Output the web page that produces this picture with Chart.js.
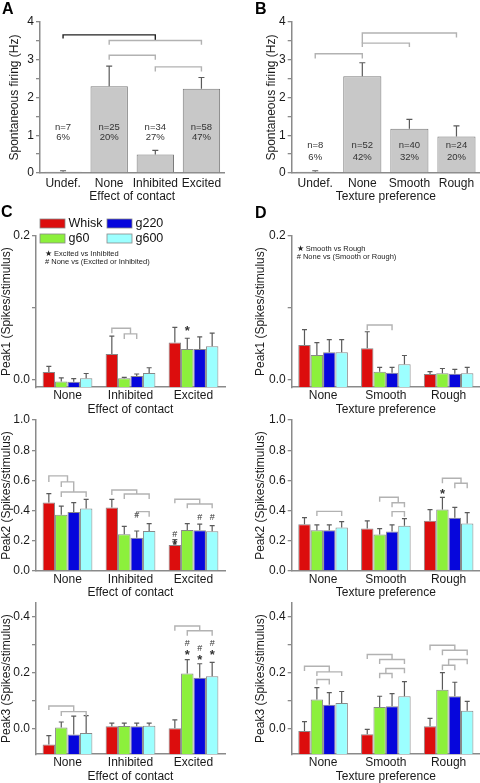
<!DOCTYPE html>
<html lang="en">
<head>
<meta charset="UTF-8">
<title>Spontaneous firing and peak responses</title>
<script src="https://cdn.jsdelivr.net/npm/chart.js"></script>
<style>
  html, body { margin: 0; padding: 0; background: #fff; }
  #figure { position: relative; width: 480px; height: 783px; overflow: hidden; font-family: "Liberation Sans", Arial, sans-serif; }
  .letter { position: absolute; z-index: 5; font-weight: bold; font-size: 16px; line-height: 16px; color: #000; }
</style>
</head>
<body>
<div id="figure">
  <div class="letter" style="left:2px;top:1px">A</div>
  <div class="letter" style="left:255px;top:1px">B</div>
  <div class="letter" style="left:1px;top:204px">C</div>
  <div class="letter" style="left:255px;top:205px">D</div>
</div>

<script>
// ---- data ----
const catsA = ['Undef.', 'None', 'Inhibited', 'Excited'];
const firingA = [0.03, 2.30, 0.49, 2.23];
const semA = [0.03, 0.53, 0.11, 0.30];
const nA = ['n=7', 'n=25', 'n=34', 'n=58'];
const pctA = ['6%', '20%', '27%', '47%'];

const catsB = ['Undef.', 'None', 'Smooth', 'Rough'];
const firingB = [0.03, 2.56, 1.17, 0.97];
const semB = [0.03, 0.36, 0.25, 0.28];
const nB = ['n=8', 'n=52', 'n=40', 'n=24'];
const pctB = ['6%', '42%', '32%', '20%'];

const groupsC = ['None', 'Inhibited', 'Excited'];
const groupsD = ['None', 'Smooth', 'Rough'];
const conditions = ['Whisk', 'g60', 'g220', 'g600'];
const condColors = ['#dc0d0d', '#8cf03c', '#0606dc', '#9cffff'];

// rows: Whisk, g60, g220, g600 ; columns: groups
const peak1C = [[0.011, 0.036, 0.052], [-0.002, 0.0023, 0.043], [-0.0023, 0.0056, 0.043], [0.0023, 0.0097, 0.047]];
const peak1CErr = [[0.008, 0.025, 0.021], [0.005, 0.0014, 0.015], [0.0043, 0.0027, 0.017], [0.0067, 0.0073, 0.018]];
const peak2C = [[0.453, 0.42, 0.173], [0.372, 0.243, 0.272], [0.39, 0.221, 0.27], [0.414, 0.265, 0.263]];
const peak2CErr = [[0.06, 0.055, 0.035], [0.058, 0.053, 0.042], [0.063, 0.044, 0.04], [0.061, 0.049, 0.037]];
const peak3C = [[-0.055, 0.0095, 0.0024], [0.005, 0.011, 0.198], [-0.02, 0.0095, 0.183], [-0.014, 0.012, 0.188]];
const peak3CErr = [[0.031, 0.0115, 0.03], [0.02, 0.01, 0.05], [0.066, 0.0115, 0.05], [0.062, 0.009, 0.05]];

const peak1D = [[0.0486, 0.044, 0.0083], [0.0347, 0.0116, 0.0093], [0.0384, 0.0102, 0.0088], [0.0384, 0.022, 0.0093]];
const peak1DErr = [[0.0214, 0.023, 0.0033], [0.0173, 0.006, 0.0067], [0.0176, 0.0074, 0.006], [0.0176, 0.012, 0.0083]];
const peak2D = [[0.31, 0.281, 0.332], [0.27, 0.241, 0.407], [0.27, 0.261, 0.352], [0.288, 0.30, 0.314]];
const peak2DErr = [[0.044, 0.051, 0.075], [0.035, 0.04, 0.08], [0.035, 0.044, 0.07], [0.039, 0.047, 0.073]];
const peak3D = [[-0.007, -0.019, 0.0095], [0.105, 0.079, 0.14], [0.087, 0.081, 0.117], [0.093, 0.117, 0.065]];
const peak3DErr = [[0.033, 0.018, 0.0285], [0.043, 0.038, 0.061], [0.043, 0.045, 0.05], [0.041, 0.052, 0.034]];

// tick values / labelled ticks
const ticksFiring = [0, 0.5, 1, 1.5, 2, 2.5, 3, 3.5, 4];
const labelsFiring = [0, 1, 2, 3, 4];
const ticksPeak1 = [0, 0.1, 0.2];
const labelsPeak1 = [0, 0.2];
const ticksPeak2 = [0, 0.1, 0.2, 0.3, 0.4, 0.5, 0.6, 0.7, 0.8, 0.9, 1.0];
const labelsPeak2 = [0, 0.2, 0.4, 0.6, 0.8, 1.0];
const ticksPeak3 = [0, 0.1, 0.2, 0.3, 0.4];
const labelsPeak3 = [0, 0.2, 0.4];

// significance brackets: [group, from bar, to bar, y, left leg end, right leg end, colour]
const bracketsA = [[0, 0, 2, 3.66, 3.56, 3.51, '#222'], [0, 1, 3, 3.51, 3.40, 3.40], [0, 1, 2, 3.12, 3.0, 3.0], [0, 2, 3, 2.81, 2.69, 2.69]];
const bracketsB = [[0, 1, 3, 3.71, 3.44, 3.59], [0, 1, 2, 3.44, 3.34, 3.34], [0, 0, 1, 3.16, 3.03, 3.03]];
const bracketsC1 = [[1, 0, 1.5, 0.0718, 0.065, 0.064], [1, 1, 2, 0.064, 0.057, 0.057]];
const bracketsC2 = [[0, 0, 1.5, 0.63, 0.59, 0.59], [0, 1, 2, 0.59, 0.556, 0.523], [0, 1, 3, 0.523, 0.49, 0.49],
  [1, 0, 2, 0.536, 0.503, 0.51], [1, 1, 3, 0.51, 0.477, 0.477], [1, 2, 3, 0.393, 0.36, 0.36],
  [2, 0, 2, 0.475, 0.448, 0.444], [2, 1, 3, 0.444, 0.415, 0.415]];
const bracketsC3 = [[0, 0, 2, 0.082, 0.068, 0.062], [0, 1, 3, 0.062, 0.046, 0.046], [2, 0, 2, 0.368, 0.351, 0.351], [2, 1, 3, 0.351, 0.333, 0.333]];
const bracketsD1 = [[1, 0, 2, 0.0764, 0.069, 0.069]];
const bracketsD2 = [[0, 1, 3, 0.395, 0.364, 0.364], [1, 1, 2.5, 0.488, 0.459, 0.452], [1, 2, 3, 0.452, 0.422, 0.422],
  [1, 2, 3, 0.393, 0.36, 0.36], [2, 1, 2.5, 0.614, 0.581, 0.581], [2, 2, 3, 0.581, 0.548, 0.548]];
const bracketsD3 = [[0, 0, 2, 0.224, 0.207, 0.204], [0, 1, 3, 0.204, 0.189, 0.189], [0, 1, 2, 0.177, 0.159, 0.159],
  [1, 0, 2, 0.266, 0.25, 0.248], [1, 1, 3, 0.248, 0.232, 0.232], [1, 1.5, 3, 0.216, 0.198, 0.199], [1, 1, 2, 0.198, 0.181, 0.181],
  [2, 0, 2, 0.299, 0.281, 0.281], [2, 1, 3, 0.281, 0.263, 0.263], [2, 1.5, 3, 0.248, 0.2275, 0.231], [2, 1, 2, 0.2275, 0.21, 0.21]];

// significance marks: [group, bar, y, symbol]
const marksC1 = [[2, 1, 0.072, '*']];
const marksC2 = [[1, 2, 0.37, '#'], [2, 0, 0.243, '#'], [2, 0, 0.186, '*'], [2, 2, 0.352, '#'], [2, 3, 0.352, '#']];
const marksC3 = [[2, 1, 0.307, '#'], [2, 1, 0.275, '*'], [2, 2, 0.289, '#'], [2, 2, 0.257, '*'], [2, 3, 0.307, '#'], [2, 3, 0.275, '*']];
const marksD2 = [[2, 1, 0.524, '*']];

// ---- drawing ----
const FONT = '"Liberation Sans", Arial, sans-serif';
Chart.defaults.font.family = FONT;
Chart.defaults.font.size = 12;
Chart.defaults.color = '#1a1a1a';
const AXIS = '#8a8a8a', ERR = '#5a5a5a', BRK = '#b2b2b2';

function xAt(chart, g, p) {
    if (chart.data.datasets.length === 1) return chart.scales.x.getPixelForValue(p);
    const lo = Math.floor(p), hi = Math.ceil(p), f = p - lo;
    const a = chart.getDatasetMeta(lo).data[g].x, b = chart.getDatasetMeta(hi).data[g].x;
    return a + (b - a) * f;
}

function extras(p) {
    return {
        id: 'extras' + p.id,
        afterDatasetsDraw(chart) {
            const ctx = chart.ctx, ys = chart.scales.y, area = chart.chartArea;
            ctx.save();
            // error bars
            chart.data.datasets.forEach((ds, d) => {
                chart.getDatasetMeta(d).data.forEach((bar, i) => {
                    const v = ds.data[i], e = p.errors[d][i];
                    const y0 = ys.getPixelForValue(v), y1 = ys.getPixelForValue(v + e);
                    ctx.strokeStyle = ERR;
                    ctx.lineWidth = 1.2;
                    ctx.beginPath();
                    ctx.moveTo(bar.x, y0); ctx.lineTo(bar.x, y1);
                    ctx.moveTo(bar.x - p.cap, y1); ctx.lineTo(bar.x + p.cap, y1);
                    ctx.stroke();
                });
            });
            // brackets
            (p.brackets || []).forEach(([g, pa, pb, y, ya, yb, col]) => {
                const xa = xAt(chart, g, pa), xb = xAt(chart, g, pb);
                ctx.strokeStyle = col || BRK;
                ctx.lineWidth = 1.4;
                ctx.beginPath();
                ctx.moveTo(xa, ys.getPixelForValue(ya));
                ctx.lineTo(xa, ys.getPixelForValue(y));
                ctx.lineTo(xb, ys.getPixelForValue(y));
                ctx.lineTo(xb, ys.getPixelForValue(yb));
                ctx.stroke();
            });
            ctx.fillStyle = '#333';
            ctx.textAlign = 'center';
            ctx.textBaseline = 'middle';
            // * and # marks
            (p.marks || []).forEach(([g, b, v, t]) => {
                const x = xAt(chart, g, b), y = ys.getPixelForValue(v);
                if (t === '*') {
                    ctx.font = 'bold 13px ' + FONT;
                    ctx.fillText('*', x, y + 3);
                } else {
                    ctx.font = '9px ' + FONT;
                    ctx.fillText('#', x, y);
                }
            });
            // n / percentage labels
            if (p.texts) {
                ctx.font = '9.5px ' + FONT;
                p.texts.forEach((row, r) => {
                    row.forEach((t, i) => ctx.fillText(t, xAt(chart, 0, i), ys.getPixelForValue(p.textY[r])));
                });
            }
            // legend
            if (p.legend) {
                chart.data.datasets.forEach((ds, d) => {
                    const x = area.left + 4 + Math.floor(d / 2) * 67;
                    const y = area.top - 17 + (d % 2) * 15;
                    ctx.fillStyle = ds.backgroundColor;
                    ctx.fillRect(x, y, 25, 9);
                    ctx.strokeStyle = '#888';
                    ctx.lineWidth = 0.8;
                    ctx.strokeRect(x, y, 25, 9);
                    ctx.fillStyle = '#111';
                    ctx.font = '12.5px ' + FONT;
                    ctx.textAlign = 'left';
                    ctx.fillText(ds.label, x + 28.5, y + 5);
                });
            }
            // notes
            if (p.notes) {
                ctx.fillStyle = '#222';
                ctx.textAlign = 'left';
                ctx.font = '7.5px ' + FONT;
                p.notes.forEach((t, i) => ctx.fillText(t, area.left + p.noteX, area.top + p.noteY + i * 8));
            }
            ctx.restore();
        }
    };
}

function makeChart(p) {
    const c = document.createElement('canvas');
    c.width = p.box.w;
    c.height = p.box.h;
    c.style.cssText = 'position:absolute;left:' + p.box.x + 'px;top:' + p.box.y + 'px;width:' + p.box.w + 'px;height:' + p.box.h + 'px';
    document.getElementById('figure').appendChild(c);

    const datasets = p.series.map((s, d) => ({
        label: p.names[d],
        data: s,
        backgroundColor: p.colors[d],
        borderColor: p.borderColor,
        borderWidth: 1,
        base: p.yMin,
        barPercentage: p.barPct,
        categoryPercentage: p.catPct
    }));

    return new Chart(c, {
        type: 'bar',
        data: { labels: p.labels, datasets: datasets },
        options: {
            responsive: false,
            animation: false,
            events: [],
            layout: { padding: { left: 0, top: p.area.t - p.box.y, right: p.box.x + p.box.w - p.area.r, bottom: 0 } },
            plugins: { legend: { display: false }, tooltip: { enabled: false } },
            scales: {
                x: {
                    grid: { display: false, drawTicks: false },
                    border: { color: AXIS, width: 1.5 },
                    ticks: { color: '#1a1a1a', padding: p.xTickPad, maxRotation: 0, autoSkip: false },
                    title: { display: true, text: p.xTitle, color: '#1a1a1a', padding: { top: 0, bottom: p.xTitlePad } },
                    afterFit: s => { s.height = p.box.y + p.box.h - p.area.b; }
                },
                y: {
                    min: p.yMin,
                    max: p.yMax,
                    afterBuildTicks: s => { s.ticks = p.ticks.map(v => ({ value: v })); },
                    grid: { drawOnChartArea: false, color: AXIS, lineWidth: 1.3, tickLength: 4 },
                    border: { color: AXIS, width: 1.5 },
                    ticks: {
                        color: '#1a1a1a',
                        padding: 2,
                        callback: v => p.labeled.some(l => Math.abs(l - v) < 1e-6) ? v.toFixed(p.dec) : ''
                    },
                    title: { display: true, text: p.yTitle, color: '#1a1a1a', padding: { top: p.yTitlePad, bottom: 0 } },
                    afterFit: s => { s.width = p.area.l - p.box.x; }
                }
            }
        },
        plugins: [extras(p)]
    });
}

function single(id, box, area, labels, values, errs, xTitle, texts, textY, brackets, yTitlePad) {
    return {
        id, box, area, labels, xTitle, texts, textY, brackets, yTitlePad,
        series: [values], errors: [errs], names: ['Spontaneous firing'],
        colors: ['#c8c8c8'], borderColor: '#7a7a7a', barPct: 0.81, catPct: 1, cap: 3,
        yMin: 0, yMax: 4, ticks: ticksFiring, labeled: labelsFiring, dec: 0,
        yTitle: 'Spontaneous firing (Hz)', xTickPad: 3, xTitlePad: 1.8
    };
}

function grouped(id, box, area, labels, values, errs, xTitle, yTitle, yMin, yMax, ticks, labeled, brackets, marks, extra) {
    return Object.assign({
        id, box, area, labels, xTitle, yTitle, yMin, yMax, ticks, labeled, brackets, marks,
        series: values, errors: errs, names: conditions, colors: condColors, borderColor: '#888',
        barPct: 1, catPct: 0.79, cap: 2.5, dec: 1
    }, extra);
}

const panels = [
    single('A', { x: 0, y: 0, w: 240, h: 206 }, { l: 40, t: 22, r: 224.5, b: 173 }, catsA, firingA, semA,
        'Effect of contact', [nA, pctA], [1.2, 0.95], bracketsA, 7.8),
    single('B', { x: 240, y: 0, w: 250, h: 206 }, { l: 291.7, t: 22, r: 480, b: 173 }, catsB, firingB, semB,
        'Texture preference', [nB, pctB], [0.72, 0.42], bracketsB, 24.8),

    grouped('C1', { x: -1, y: 196, w: 241, h: 222 }, { l: 36, t: 236, r: 225, b: 387.2 }, groupsC, peak1C, peak1CErr,
        'Effect of contact', 'Peak1 (Spikes/stimulus)', -0.01, 0.2, ticksPeak1, labelsPeak1, bracketsC1, marksC1,
        { yTitlePad: 0, xTickPad: 1, xTitlePad: 1.3, legend: true,
          notes: ['\u2605 Excited vs Inhibited', '# None vs (Excited or Inhibited)'], noteX: 9, noteY: 18 }),
    grouped('C2', { x: -1, y: 400, w: 241, h: 200 }, { l: 36, t: 420, r: 225, b: 571 }, groupsC, peak2C, peak2CErr,
        'Effect of contact', 'Peak2 (Spikes/stimulus)', 0, 1, ticksPeak2, labelsPeak2, bracketsC2, marksC2,
        { yTitlePad: 0, xTickPad: 1, xTitlePad: 0 }),
    grouped('C3', { x: -1, y: 585, w: 241, h: 200 }, { l: 36, t: 603, r: 225, b: 754.2 }, groupsC, peak3C, peak3CErr,
        'Effect of contact', 'Peak3 (Spikes/stimulus)', -0.09, 0.45, ticksPeak3, labelsPeak3, bracketsC3, marksC3,
        { yTitlePad: 0, xTickPad: 1.5, xTitlePad: 0.8 }),

    grouped('D1', { x: 240, y: 196, w: 250, h: 222 }, { l: 291.7, t: 236, r: 480, b: 387.2 }, groupsD, peak1D, peak1DErr,
        'Texture preference', 'Peak1 (Spikes/stimulus)', -0.01, 0.2, ticksPeak1, labelsPeak1, bracketsD1, [],
        { yTitlePad: 13, xTickPad: 1, xTitlePad: 1.3,
          notes: ['\u2605 Smooth vs Rough', '# None vs (Smooth or Rough)'], noteX: 5, noteY: 13 }),
    grouped('D2', { x: 240, y: 400, w: 250, h: 200 }, { l: 291.7, t: 420, r: 480, b: 571 }, groupsD, peak2D, peak2DErr,
        'Texture preference', 'Peak2 (Spikes/stimulus)', 0, 1, ticksPeak2, labelsPeak2, bracketsD2, marksD2,
        { yTitlePad: 13, xTickPad: 1, xTitlePad: 0 }),
    grouped('D3', { x: 240, y: 585, w: 250, h: 200 }, { l: 291.7, t: 603, r: 480, b: 754.2 }, groupsD, peak3D, peak3DErr,
        'Texture preference', 'Peak3 (Spikes/stimulus)', -0.09, 0.45, ticksPeak3, labelsPeak3, bracketsD3, [],
        { yTitlePad: 13, xTickPad: 1.5, xTitlePad: 0.8 })
];

panels.forEach(makeChart);
</script>
</body>
</html>
